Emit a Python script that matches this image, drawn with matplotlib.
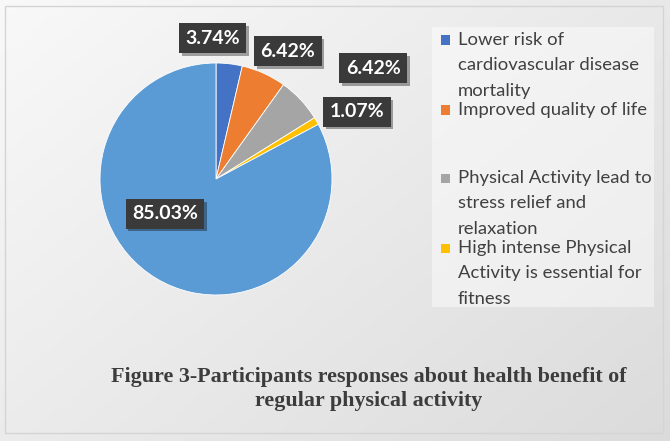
import numpy as np
import matplotlib.pyplot as plt
from matplotlib import patheffects as pe
from matplotlib.patches import Rectangle

# Survey responses (percent of participants)
categories = [
    "Lower risk of\ncardiovascular disease\nmortality",
    "Improved quality of life",
    "Physical Activity lead to\nstress relief and\nrelaxation",
    "High intense Physical\nActivity is essential for\nfitness",
    "Other",
]
values = [3.74, 6.42, 6.42, 1.07, 85.03]
colors = ["#4472C4", "#ED7D31", "#A5A5A5", "#FFC000", "#5B9BD5"]
title = "Figure 3-Participants responses about health benefit of\nregular physical activity"

W, H = 670, 441
fig = plt.figure(figsize=(W / 100, H / 100), dpi=100)

# Diagonal background gradient (light top-left to grey bottom-right)
bg = fig.add_axes([0, 0, 1, 1], zorder=-10)
yy, xx = np.mgrid[0:1:200j, 0:1:300j]
g = 0.975 - 0.115 * (0.55 * xx + 0.45 * yy)
bg.imshow(np.dstack([g, g, g]), extent=[0, 1, 0, 1], aspect="auto", origin="upper")
bg.add_patch(Rectangle((5 / W, 8 / H), 1 - 12 / W, 1 - 14 / H, fill=False,
                       ec="#d4d4d4", lw=1.0, transform=bg.transAxes))
# Legend backdrop
bg.add_patch(Rectangle((432 / W, 1 - 307 / H), 222 / W, 280 / H,
                       fc="white", ec="none", alpha=0.45, transform=bg.transAxes))
bg.set_xlim(0, 1)
bg.set_ylim(0, 1)
bg.axis("off")

# Pie
cx, cy, r = 216, 179, 116
ax = fig.add_axes([(cx - r) / W, 1 - (cy + r) / H, 2 * r / W, 2 * r / H])
ax.pie(values, colors=colors, startangle=90, counterclock=False, radius=1,
       wedgeprops=dict(edgecolor="white", linewidth=0.6))
ax.set_xlim(-1, 1)
ax.set_ylim(-1, 1)
ax.set_aspect("equal")
ax.axis("off")

# Data labels in dark callout boxes
label_xy = [(-0.03, 1.215), (0.62, 1.10), (1.355, 0.955), (1.215, 0.58), (-0.44, -0.30)]
for v, (lx, ly) in zip(values, label_xy):
    t = ax.text(lx, ly, f"{v:.2f}%", ha="center", va="center", color="white",
                fontsize=14, fontweight="bold", family="Lato",
                bbox=dict(boxstyle="square,pad=0.33", fc="#3a3a3a", ec="none"),
                clip_on=False)
    t.get_bbox_patch().set_path_effects(
        [pe.SimplePatchShadow(offset=(2, -2), alpha=0.35, shadow_rgbFace="black"), pe.Normal()])

# Legend (four listed entries)
leg_rows = [40, 110, 178, 248]
for cat, col, y0 in zip(categories[:4], colors[:4], leg_rows):
    fig.patches.append(Rectangle((441 / W, 1 - (y0 + 4.5) / H), 9 / W, 9 / H,
                                 fc=col, ec="none", transform=fig.transFigure))
    fig.text(458 / W, 1 - (y0 - 8) / H, cat, ha="left", va="top", fontsize=13.3,
             family="Lato", color="#404040", linespacing=1.72)

# Caption
fig.text(369 / W, 1 - 389 / H, title, ha="center", va="center", fontsize=15.8,
         fontweight="bold", family="Liberation Serif", color="#3c3c3c",
         linespacing=1.32)

fig.savefig("out.png", dpi=100)
